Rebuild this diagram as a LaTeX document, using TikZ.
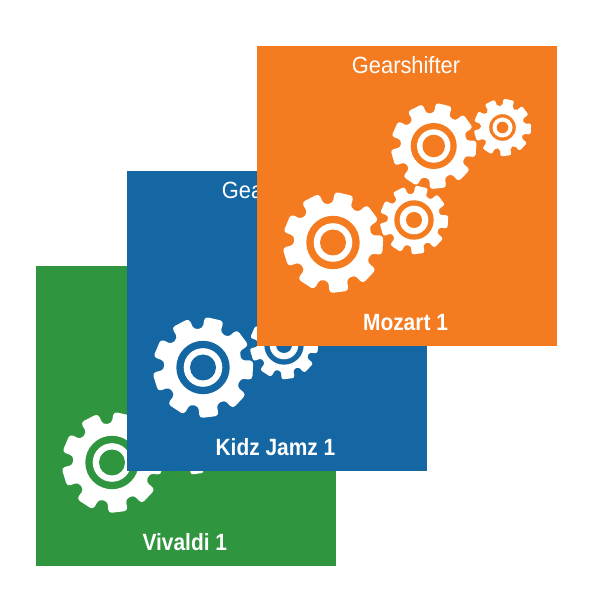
\documentclass[tikz,border=0pt]{standalone}
\usepackage{fontspec}
\setmainfont{Liberation Sans}
\newfontfamily\titlefont[FakeStretch=0.93]{Liberation Sans}
\newfontfamily\namefont[FakeStretch=0.89]{Liberation Sans}
\definecolor{orangecard}{HTML}{F47B20}
\definecolor{bluecard}{HTML}{1467A3}
\definecolor{greencard}{HTML}{2F953F}
% #1 cx #2 cy (card coordinates, from top left) #3 tip radius #4 root radius #5 phase #6,#7,#8 ring radii
\newcommand{\cardgear}[8]{%
  \begin{scope}[shift={(#1,300-#2)}]
    \pgfmathsetmacro{\gearround}{0.07*#3}
    \fill[white,rounded corners=\gearround pt] (#5-20:#4)
      \foreach \k in {0,...,8}{
        -- (\k*40+#5-13.5:#4) -- (\k*40+#5-11:#3) -- (\k*40+#5+11:#3)
        -- (\k*40+#5+13.5:#4) -- (\k*40+#5+20:#4)
      } -- cycle;
    \fill[cardcol] (0,0) circle (#6);
    \fill[white] (0,0) circle (#7);
    \fill[cardcol] (0,0) circle (#8);
  \end{scope}}
\newcommand{\gearOne}{\cardgear{76}{196.5}{50.8}{39}{37}{26.7}{19.3}{13}}
\newcommand{\gearTwo}{\cardgear{176.7}{100}{43.3}{33}{36}{23}{16.7}{11.3}}
\newcommand{\gearThree}{\cardgear{157}{174}{34.6}{26.2}{37}{19.7}{14.3}{8}}
\newcommand{\gearFour}{\cardgear{245.5}{81.5}{29}{21.5}{37}{13.3}{10}{5.8}}
\tikzset{
  card/.style={fill=#1,draw=none,minimum size=300pt,inner sep=0pt,outer sep=0pt,anchor=south west},
  cardtitle/.style={text=white,font=\fontsize{23.5}{23.5}\titlefont,anchor=base,inner sep=0pt},
  cardname/.style={text=white,font=\fontsize{23.5}{23.5}\namefont\bfseries,anchor=base,inner sep=0pt},
}
\begin{document}
\begin{tikzpicture}[x=1pt,y=1pt]
\useasboundingbox (0,0) rectangle (600,600);
\fill[white] (0,0) rectangle (600,600);
% green card
\begin{scope}[shift={(36,34)}]
  \colorlet{cardcol}{greencard}
  \node[card=greencard] (greenbox) at (0,0) {};
  \gearOne
  \gearThree
  \node[cardname] (greenname) at (148.8,15.3) {Vivaldi 1};
\end{scope}
% blue card
\begin{scope}[shift={(127,129)}]
  \colorlet{cardcol}{bluecard}
  \node[card=bluecard] (bluebox) at (0,0) {};
  \gearOne
  \gearThree
  \node[cardtitle] (bluetitle) at (149,272) {Gearshifter};
  \node[cardname] (bluename) at (148.5,15.3) {Kidz Jamz 1};
\end{scope}
% orange card
\begin{scope}[shift={(257,254)}]
  \colorlet{cardcol}{orangecard}
  \node[card=orangecard] (orangebox) at (0,0) {};
  \gearOne
  \gearTwo
  \gearThree
  \gearFour
  \node[cardtitle] (orangetitle) at (149,272) {Gearshifter};
  \node[cardname] (orangename) at (148.5,15.3) {Mozart 1};
\end{scope}
\end{tikzpicture}
\end{document}
